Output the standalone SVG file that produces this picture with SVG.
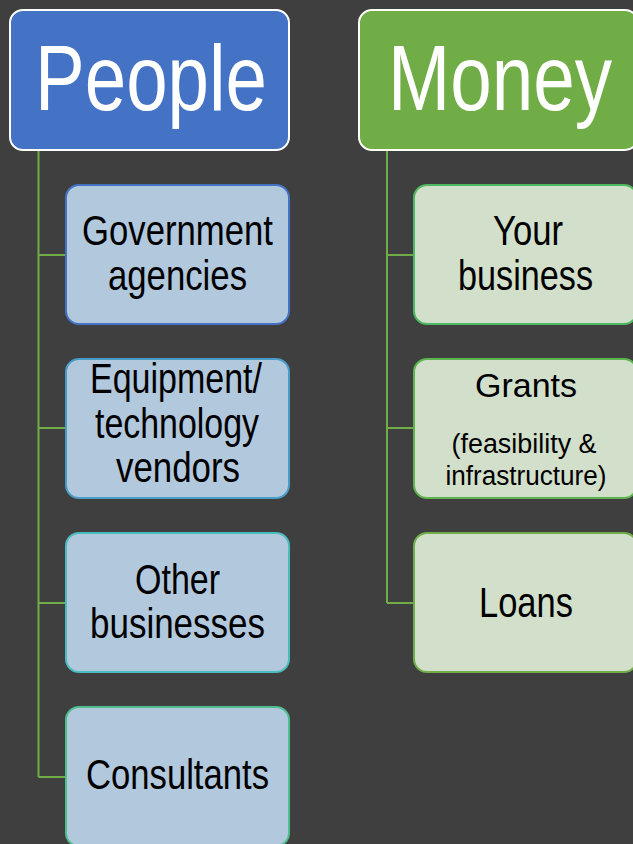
<svg xmlns="http://www.w3.org/2000/svg" width="633" height="844" viewBox="0 0 633 844">
<style>
.bg{fill:#3f3f3f}
.conn{fill:none;stroke:#70ad47;stroke-width:2}
.top{stroke:#ffffff;stroke-width:2}
.lc{fill:#b2c8dd;stroke-width:2}
.rc{fill:#d2dfca;stroke-width:2}
text{font-family:"Liberation Sans",Arial,sans-serif;text-anchor:middle}
.tt{fill:#ffffff;font-size:93px}
.ct{fill:#000000;font-size:42px}
.st{fill:#000000;font-size:27px}
</style>
<rect class="bg" x="0" y="0" width="633" height="844"/>
<g id="connectors">
<path class="conn" d="M38.5 150 V777 M38.5 255 H66 M38.5 428 H66 M38.5 603 H66 M38.5 777 H66"/>
<path class="conn" d="M387 150 V603 M387 255 H414 M387 428 H414 M387 603 H414"/>
</g>
<g id="people">
<rect class="top" x="10" y="10" width="279" height="140" rx="13" fill="#4472c4"/>
<text class="tt" x="151" y="110" textLength="232" lengthAdjust="spacingAndGlyphs">People</text>
</g>
<g id="money">
<rect class="top" x="359" y="10" width="279" height="140" rx="13" fill="#70ad47"/>
<text class="tt" x="500" y="110" textLength="224" lengthAdjust="spacingAndGlyphs">Money</text>
</g>
<g id="government">
<rect class="lc" x="66" y="185" width="223" height="139" rx="13" stroke="#4472c4"/>
<text class="ct" x="177.5" y="245" textLength="191" lengthAdjust="spacingAndGlyphs">Government</text>
<text class="ct" x="177.5" y="290" textLength="139" lengthAdjust="spacingAndGlyphs">agencies</text>
</g>
<g id="equipment">
<rect class="lc" x="66" y="359" width="223" height="139" rx="13" stroke="#4a9cc8"/>
<text class="ct" x="176" y="393" textLength="172" lengthAdjust="spacingAndGlyphs">Equipment/</text>
<text class="ct" x="177" y="438" textLength="164" lengthAdjust="spacingAndGlyphs">technology</text>
<text class="ct" x="178" y="482" textLength="124" lengthAdjust="spacingAndGlyphs">vendors</text>
</g>
<g id="other">
<rect class="lc" x="66" y="533" width="223" height="139" rx="13" stroke="#4bbcbe"/>
<text class="ct" x="177.5" y="594" textLength="85" lengthAdjust="spacingAndGlyphs">Other</text>
<text class="ct" x="177.5" y="638" textLength="175" lengthAdjust="spacingAndGlyphs">businesses</text>
</g>
<g id="consultants">
<rect class="lc" x="66" y="707" width="223" height="139" rx="13" stroke="#4dbe8c"/>
<text class="ct" x="177.5" y="789" textLength="183" lengthAdjust="spacingAndGlyphs">Consultants</text>
</g>
<g id="yourbusiness">
<rect class="rc" x="414" y="185" width="223" height="139" rx="13" stroke="#4cb860"/>
<text class="ct" x="528" y="245" textLength="70" lengthAdjust="spacingAndGlyphs">Your</text>
<text class="ct" x="525.5" y="290" textLength="135" lengthAdjust="spacingAndGlyphs">business</text>
</g>
<g id="grants">
<rect class="rc" x="414" y="359" width="223" height="139" rx="13" stroke="#5cb44f"/>
<text class="ct" x="526" y="397" style="font-size:34px" textLength="102" lengthAdjust="spacingAndGlyphs">Grants</text>
<text class="st" x="524" y="453" textLength="145" lengthAdjust="spacingAndGlyphs">(feasibility &amp;</text>
<text class="st" x="526" y="485" textLength="161" lengthAdjust="spacingAndGlyphs">infrastructure)</text>
</g>
<g id="loans">
<rect class="rc" x="414" y="533" width="223" height="139" rx="13" stroke="#70ad47"/>
<text class="ct" x="526" y="617" textLength="94" lengthAdjust="spacingAndGlyphs">Loans</text>
</g>
</svg>
